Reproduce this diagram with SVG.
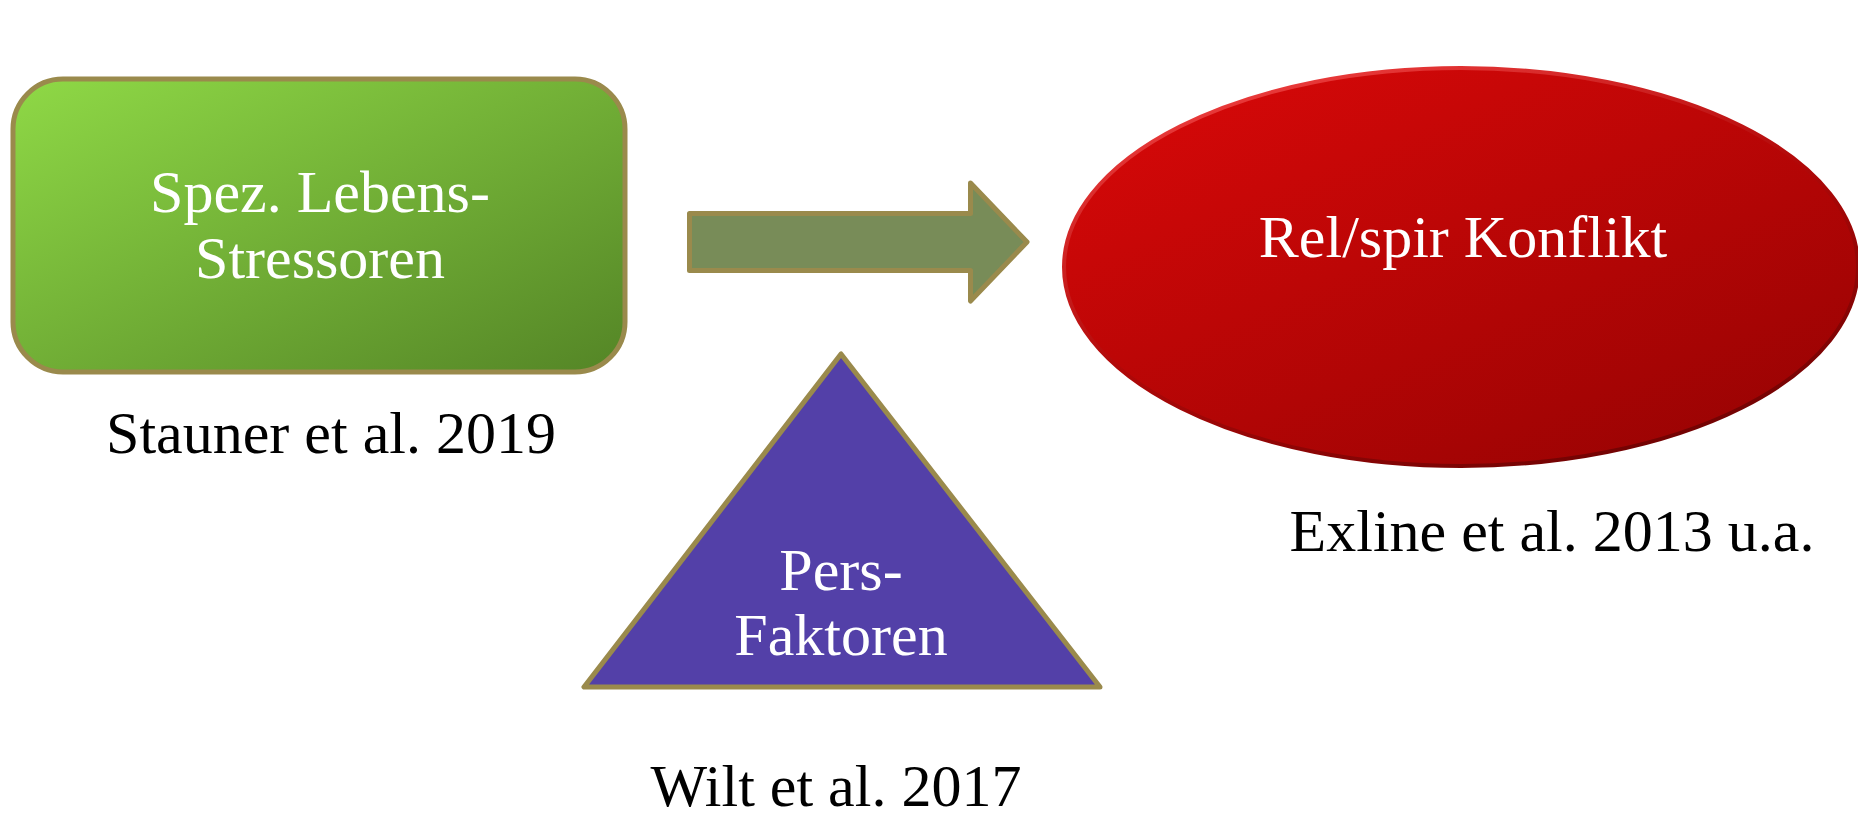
<svg xmlns="http://www.w3.org/2000/svg" width="1858" height="818" viewBox="0 0 1858 818">
<style>
.lbl{font-family:"Liberation Serif","DejaVu Serif",serif;font-size:60px;fill:#ffffff;text-anchor:middle}
.cap{font-family:"Liberation Serif","DejaVu Serif",serif;font-size:60px;fill:#000000;text-anchor:middle}
.edge{stroke:#9A8A4C;stroke-width:5;stroke-linejoin:round}
</style>
<defs>
<linearGradient id="gGreen" x1="0" y1="0" x2="1" y2="1">
<stop offset="0" stop-color="#8FD946"/>
<stop offset="1" stop-color="#548526"/>
</linearGradient>
<linearGradient id="gRed" x1="0.15" y1="0.1" x2="0.85" y2="0.95">
<stop offset="0" stop-color="#D30808"/>
<stop offset="1" stop-color="#9A0303"/>
</linearGradient>
<linearGradient id="gRim" x1="0.2" y1="0" x2="0.8" y2="1">
<stop offset="0" stop-color="#F04040"/>
<stop offset="0.5" stop-color="#B00808"/>
<stop offset="1" stop-color="#6A0202"/>
</linearGradient>
</defs>
<g id="node-stressoren">
<rect x="13" y="79" width="612" height="293" rx="50" ry="50" fill="url(#gGreen)" class="edge"/>
<text class="lbl" x="320" y="212">Spez. Lebens-</text>
<text class="lbl" x="320" y="278">Stressoren</text>
</g>
<g id="node-konflikt">
<ellipse cx="1461" cy="267" rx="397" ry="199" fill="url(#gRed)" stroke="url(#gRim)" stroke-width="4"/>
<text class="lbl" x="1463" y="257">Rel/spir Konflikt</text>
</g>
<g id="node-persfaktoren">
<polygon points="841,354 584,687 1100,687" fill="#5340A8" class="edge"/>
<text class="lbl" x="841" y="590">Pers-</text>
<text class="lbl" x="841" y="655">Faktoren</text>
</g>
<g id="connectors">
<path d="M689.5,213.5 H970.5 V183 L1027,242 L970.5,301 V270.5 H689.5 Z" fill="#788C58" class="edge"/>
</g>
<g id="captions">
<text class="cap" x="331" y="453">Stauner et al. 2019</text>
<text class="cap" x="1552" y="551">Exline et al. 2013 u.a.</text>
<text class="cap" x="836" y="806">Wilt et al. 2017</text>
</g>
</svg>
